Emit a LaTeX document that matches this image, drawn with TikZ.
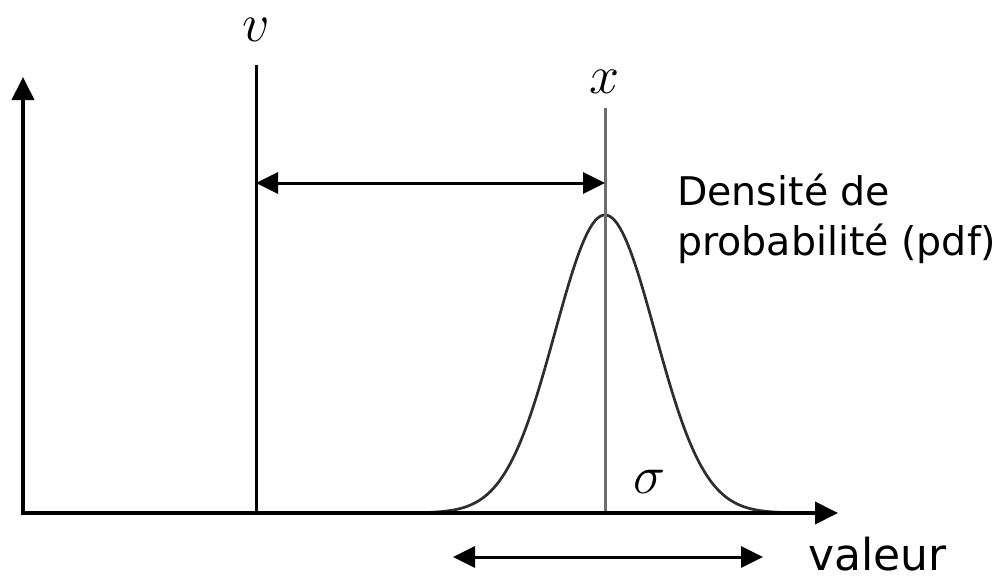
\documentclass[tikz,border=0pt]{standalone}
\usepackage{fontspec}
\setmainfont{DejaVu Sans}
\usetikzlibrary{arrows.meta}
\definecolor{xline}{RGB}{110,110,110}
\definecolor{curve}{RGB}{45,45,45}
\tikzset{
  axis/.style={line width=4pt, -{Triangle[length=23pt,width=22pt]}},
  vline/.style={line width=3pt, black},
  xvline/.style={line width=3pt, xline},
  dimarrow/.style={line width=3pt, {Triangle[length=22pt,width=21pt]}-{Triangle[length=22pt,width=21pt]}},
  mathlab/.style={inner sep=0pt, scale=2.17, font=\Huge},
  txt/.style={inner sep=0pt, anchor=base west, font=\fontsize{39.5}{48}\selectfont},
  bigtxt/.style={inner sep=0pt, anchor=base west, font=\fontsize{44}{54}\selectfont}
}
\begin{document}
\begin{tikzpicture}[x=1pt,y=-1pt]
\useasboundingbox (0,0) rectangle (1005,581);
\coordinate (O) at (23,513);
\coordinate (ytop) at (23,77);
\coordinate (xend) at (838,513);
\coordinate (vtop) at (256,65);
\coordinate (vbot) at (256,513);
\coordinate (xtop) at (605,108);
\coordinate (xbot) at (605,513);
\coordinate (a1) at (256,183);
\coordinate (a2) at (605,183);
\coordinate (b1) at (453,557);
\coordinate (b2) at (763,557);
% curve
\draw[curve, line width=2.7pt] plot[domain=420:800, samples=200] (\x, {513-298*exp(-0.5*((\x-605)/50)^2)});
% lines
\draw[vline] (vbot) -- (vtop);
\draw[xvline] (xbot) -- (xtop);
% axes
\draw[axis] ([yshift=2pt]O) -- (ytop);
\draw[axis] ([xshift=-2pt]O) -- (xend);
% dimension arrows
\draw[dimarrow] (a1) -- (a2);
\draw[dimarrow] (b1) -- (b2);
% labels
\node[mathlab] (vlab) at (256,30) {$v$};
\node[mathlab] (xlab) at (605,82) {$x$};
\node[mathlab] (sig) at (649,482) {$\sigma$};
\node[txt] (dens1) at (677,205) {Densité de};
\node[txt] (dens2) at (677,255) {probabilité (pdf)};
\node[bigtxt] (val) at (808,570) {valeur};
\end{tikzpicture}
\end{document}
